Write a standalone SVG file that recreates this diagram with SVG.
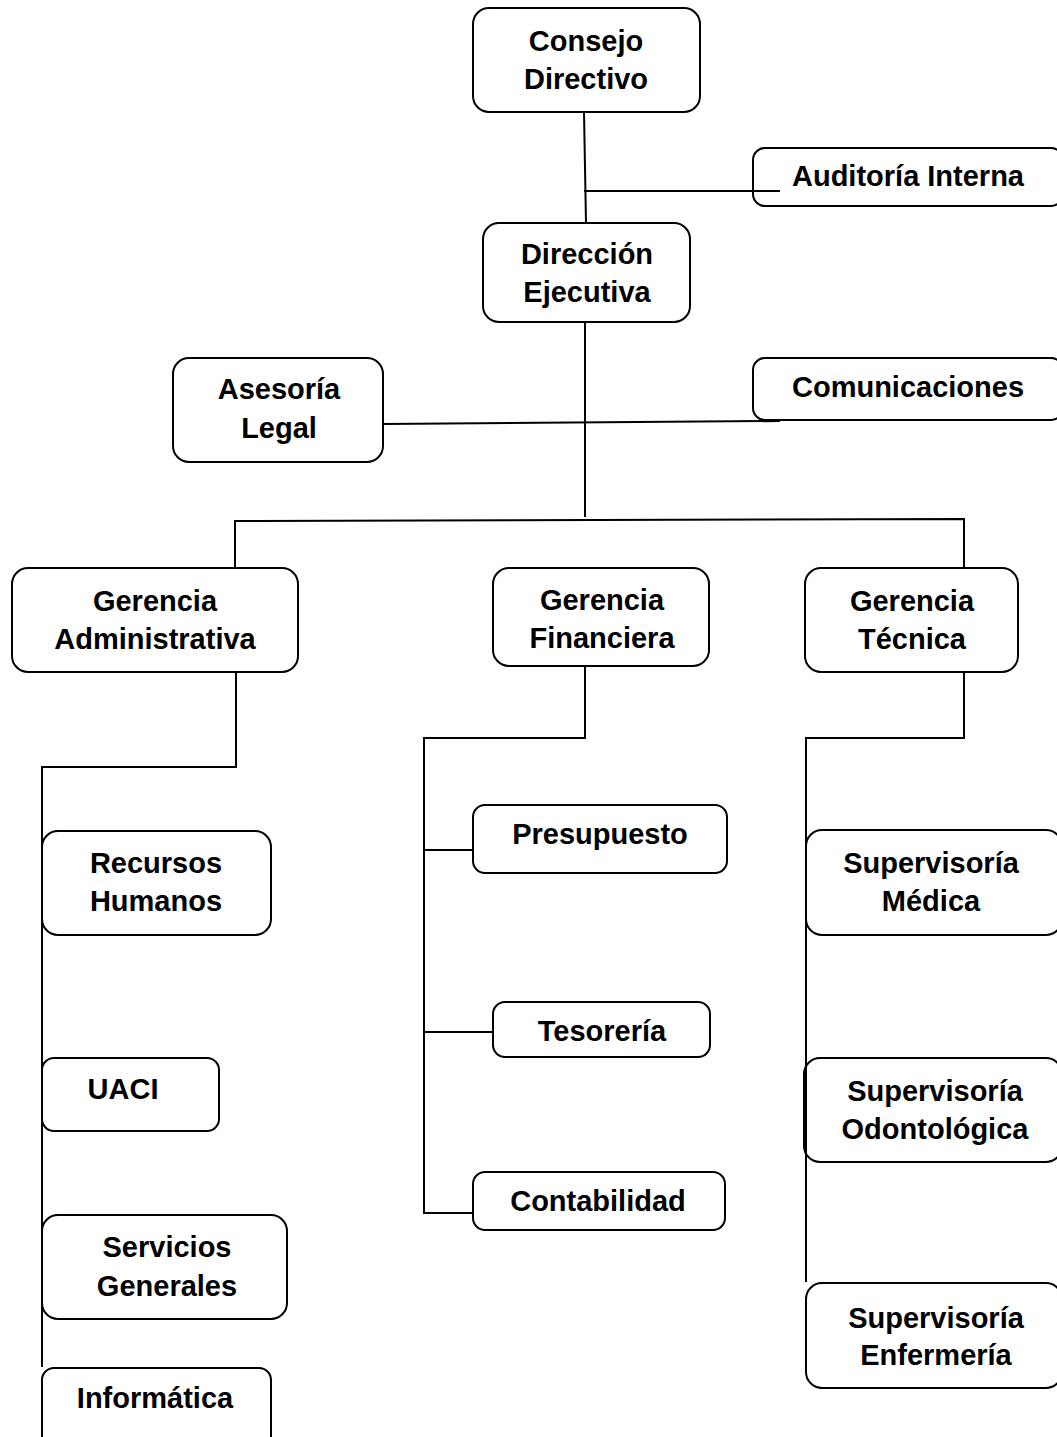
<svg xmlns="http://www.w3.org/2000/svg" width="1057" height="1437" viewBox="0 0 1057 1437">
<style>
.box{fill:#fff;stroke:#000;stroke-width:2}
.t{font-family:"Liberation Sans",Arial,sans-serif;font-weight:bold;font-size:29px;text-anchor:middle;fill:#000}
.c{fill:none;stroke:#000;stroke-width:2}
</style>
<rect width="1057" height="1437" fill="#fff"/>
<g id="consejo"><rect class="box" x="473" y="8" width="227" height="104" rx="16"/><text class="t" x="586" y="51">Consejo</text><text class="t" x="586" y="89">Directivo</text></g>
<g id="auditoria"><rect class="box" x="753" y="148" width="310" height="58" rx="12"/><text class="t" x="908" y="186">Auditoría Interna</text></g>
<g id="direccion"><rect class="box" x="483" y="223" width="207" height="99" rx="16"/><text class="t" x="587" y="264">Dirección</text><text class="t" x="587" y="302">Ejecutiva</text></g>
<g id="asesoria"><rect class="box" x="173" y="358" width="210" height="104" rx="16"/><text class="t" x="279" y="399">Asesoría</text><text class="t" x="279" y="438">Legal</text></g>
<g id="comunicaciones"><rect class="box" x="753" y="358" width="310" height="62" rx="12"/><text class="t" x="908" y="397">Comunicaciones</text></g>
<g id="ger-admin"><rect class="box" x="12" y="568" width="286" height="104" rx="16"/><text class="t" x="155" y="611">Gerencia</text><text class="t" x="155" y="649">Administrativa</text></g>
<g id="ger-fin"><rect class="box" x="493" y="568" width="216" height="98" rx="16"/><text class="t" x="602" y="610">Gerencia</text><text class="t" x="602" y="648">Financiera</text></g>
<g id="ger-tec"><rect class="box" x="805" y="568" width="213" height="104" rx="16"/><text class="t" x="912" y="611">Gerencia</text><text class="t" x="912" y="649">Técnica</text></g>
<g id="rrhh"><rect class="box" x="42" y="831" width="229" height="104" rx="16"/><text class="t" x="156" y="873">Recursos</text><text class="t" x="156" y="911">Humanos</text></g>
<g id="uaci"><rect class="box" x="42" y="1058" width="177" height="73" rx="12"/><text class="t" x="123" y="1099">UACI</text></g>
<g id="servicios"><rect class="box" x="42" y="1215" width="245" height="104" rx="16"/><text class="t" x="167" y="1257">Servicios</text><text class="t" x="167" y="1296">Generales</text></g>
<g id="informatica"><rect class="box" x="42" y="1368" width="229" height="80" rx="12"/><text class="t" x="155" y="1408">Informática</text></g>
<g id="presupuesto"><rect class="box" x="473" y="805" width="254" height="68" rx="12"/><text class="t" x="600" y="844">Presupuesto</text></g>
<g id="tesoreria"><rect class="box" x="493" y="1002" width="217" height="55" rx="12"/><text class="t" x="602" y="1041">Tesorería</text></g>
<g id="contabilidad"><rect class="box" x="473" y="1172" width="252" height="58" rx="12"/><text class="t" x="598" y="1211">Contabilidad</text></g>
<g id="sup-medica"><rect class="box" x="806" y="830" width="256" height="105" rx="16"/><text class="t" x="931" y="873">Supervisoría</text><text class="t" x="931" y="911">Médica</text></g>
<g id="sup-odonto"><rect class="box" x="804" y="1058" width="258" height="104" rx="16"/><text class="t" x="935" y="1101">Supervisoría</text><text class="t" x="935" y="1139">Odontológica</text></g>
<g id="sup-enf"><rect class="box" x="806" y="1283" width="256" height="105" rx="16"/><text class="t" x="936" y="1328">Supervisoría</text><text class="t" x="936" y="1365">Enfermería</text></g>
<g id="connectors">
<path class="c" d="M584 112 L586 223"/>
<path class="c" d="M584 191 L780 191"/>
<path class="c" d="M585 322 L585 517"/>
<path class="c" d="M383 424 L780 421"/>
<path class="c" d="M235 568 L235 521 L964 519 L964 568"/>
<path class="c" d="M236 672 L236 767 L42 767 L42 1367"/>
<path class="c" d="M585 666 L585 738 L424 738 L424 1213 L473 1213 M424 850 L473 850 M424 1032 L493 1032"/>
<path class="c" d="M964 672 L964 738 L806 738 L806 1282"/>
</g>
</svg>
